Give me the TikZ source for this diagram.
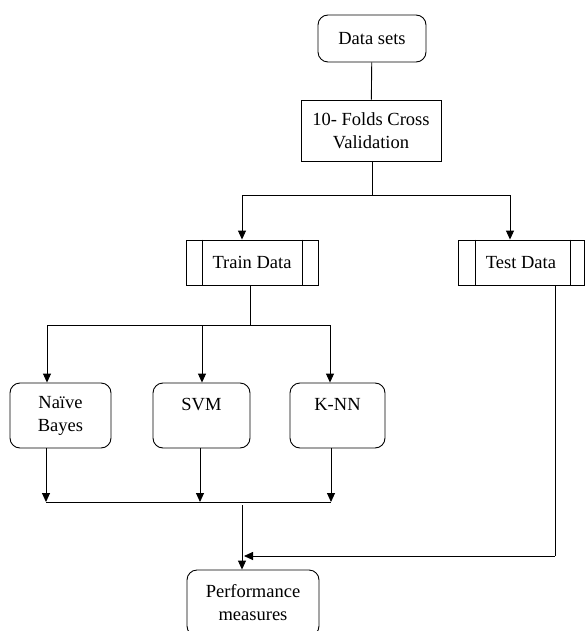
\documentclass[tikz,border=0pt]{standalone}
\usepackage{fontspec}
\setmainfont{Liberation Serif}
\usetikzlibrary{arrows.meta}
\begin{document}
\begin{tikzpicture}[x=1pt,y=-1pt,
  every node/.style={font=\fontsize{18.5}{23}\selectfont, align=center, inner sep=0pt},
  rbox/.style={draw, line width=0.9pt, rounded corners=10pt},
  sbox/.style={draw, line width=0.9pt},
  conn/.style={line width=0.9pt},
  arr/.style={conn, -{Triangle[length=9pt,width=8pt]}}]
\useasboundingbox (0,0) rectangle (584,631);
% nodes
\node[rbox, minimum width=108pt, minimum height=47pt] (ds) at (372,38.5) {Data sets};
\node[sbox, minimum width=140pt, minimum height=61pt] (fold) at (371,130.5) {10- Folds Cross\\Validation};
\node[sbox, minimum width=132pt, minimum height=45pt] (train) at (252,262.5) {Train Data};
\node[sbox, minimum width=126pt, minimum height=45pt] (test) at (521,262.5) {Test Data};
\draw[conn] ([xshift=17pt]train.north west) -- ([xshift=17pt]train.south west);
\draw[conn] ([xshift=-16pt]train.north east) -- ([xshift=-16pt]train.south east);
\draw[conn] ([xshift=18pt]test.north west) -- ([xshift=18pt]test.south west);
\draw[conn] ([xshift=-14pt]test.north east) -- ([xshift=-14pt]test.south east);
\node[rbox, minimum width=101pt, minimum height=65pt] (nb) at (60.5,415.5) {Naïve\\Bayes};
\node[rbox, minimum width=97pt, minimum height=65pt] (svm) at (201.5,415.5) {SVM\\\phantom{B}};
\node[rbox, minimum width=95pt, minimum height=65pt] (knn) at (337.5,415.5) {K-NN\\\phantom{B}};
\node[rbox, minimum width=132pt, minimum height=66pt] (perf) at (253,603) {Performance\\measures};
% coordinates
\coordinate (s1) at (372,195);
\coordinate (s1l) at (242,195);
\coordinate (s1r) at (510,195);
\coordinate (s2) at (250,325);
\coordinate (s2l) at (47,325);
\coordinate (s2m) at (202,325);
\coordinate (s2r) at (330,325);
\coordinate (b1) at (46,502);
\coordinate (b2) at (200,502);
\coordinate (b3) at (331,502);
\coordinate (bm) at (242,505);
\coordinate (tc) at (555,556);
\coordinate (tm) at (244,556);
% connectors
\draw[conn] (ds) -- (fold);
\draw[conn] (fold.south -| s1) -- (s1);
\draw[conn] (s1l) -- (s1r);
\draw[arr] (s1l) -- (s1l |- train.north);
\draw[arr] (s1r) -- (s1r |- test.north);
\draw[conn] (train.south -| s2) -- (s2);
\draw[conn] (s2l) -- (s2r);
\draw[arr] (s2l) -- (s2l |- nb.north);
\draw[arr] (s2m) -- (s2m |- svm.north);
\draw[arr] (s2r) -- (s2r |- knn.north);
\draw[arr] (nb.south -| b1) -- (b1);
\draw[arr] (svm.south -| b2) -- (b2);
\draw[arr] (knn.south -| b3) -- (b3);
\draw[conn] (b1) -- (b3);
\draw[arr] (bm) -- (bm |- perf.north);
\draw[conn] (test.south -| tc) -- (tc);
\draw[arr] (tc) -- (tm);
\end{tikzpicture}
\end{document}
